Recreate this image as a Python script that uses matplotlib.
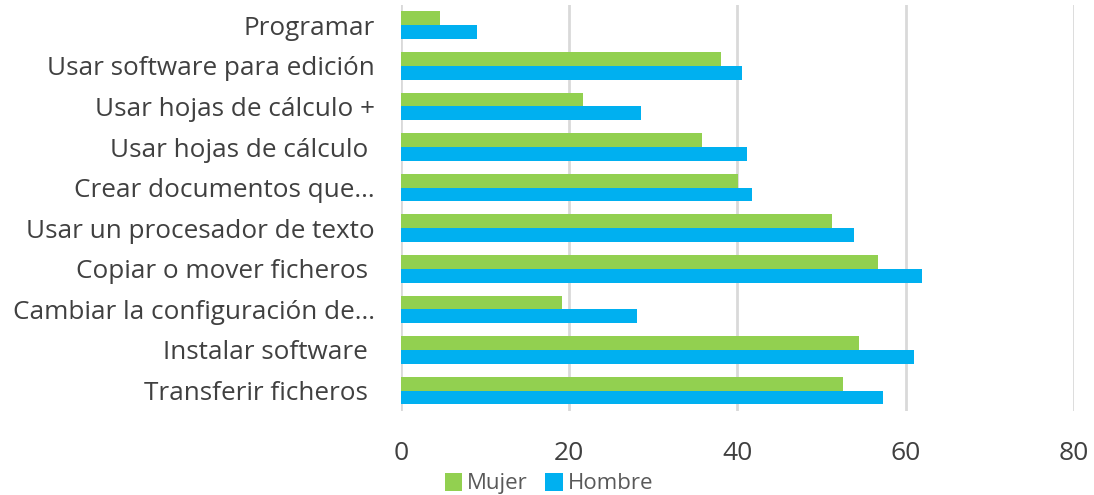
import numpy as np
import matplotlib
matplotlib.use("Agg")
import matplotlib.pyplot as plt

# data (percent)
categories = [
    "Programar",
    "Usar software para edición",
    "Usar hojas de cálculo +",
    "Usar hojas de cálculo ",
    "Crear documentos que...",
    "Usar un procesador de texto",
    "Copiar o mover ficheros ",
    "Cambiar la configuración de...",
    "Instalar software ",
    "Transferir ficheros ",
]
mujer = [4.6, 38.1, 21.7, 35.8, 40.1, 51.3, 56.7, 19.1, 54.5, 52.6]
hombre = [9.1, 40.6, 28.5, 41.1, 41.7, 53.9, 62.0, 28.1, 61.0, 57.3]
xticks = [0, 20, 40, 60, 80]

plt.rcParams['font.family'] = ['Open Sans', 'DejaVu Sans']

fig = plt.figure(figsize=(10.94, 4.95), dpi=100)
ax = fig.add_axes([0.3665, 0.17, 0.615, 0.82])

y = np.arange(len(categories))
h = 0.34
ax.barh(y - h / 2, mujer, height=h, color='#92D050', label='Mujer', zorder=3)
ax.barh(y + h / 2, hombre, height=h, color='#00B0F0', label='Hombre', zorder=3)

ax.set_xlim(0, 80)
ax.set_ylim(len(categories) - 0.5, -0.5)
ax.set_xticks(xticks)
ax.set_yticks(y)
ax.set_yticklabels(categories, fontsize=18.8, color='#404040')
ax.tick_params(axis='x', labelsize=19, labelcolor='#404040', length=0, pad=22)
ax.tick_params(axis='y', length=0, pad=19)
ax.grid(axis='x', color='#d9d9d9', linewidth=2, zorder=0)
for s in ax.spines.values():
    s.set_visible(False)

ax.legend(loc='upper left', bbox_to_anchor=(0.065, -0.152), ncol=2, frameon=False,
          fontsize=16, labelcolor='#595959', handlelength=0.8, handleheight=0.9,
          handletextpad=0.2, columnspacing=0.8, borderaxespad=0, borderpad=0)

fig.savefig("out.png", dpi=100)
